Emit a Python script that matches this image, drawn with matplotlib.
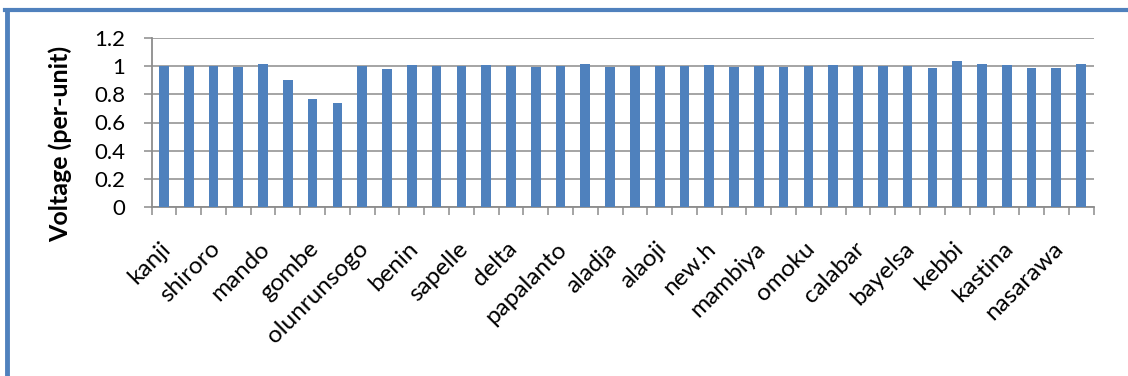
import numpy as np
import matplotlib
matplotlib.use("Agg")
import matplotlib.pyplot as plt
from matplotlib.lines import Line2D
from matplotlib.transforms import ScaledTranslation

# bus voltages, one bar per bus; only every other bus gets a name on the axis
voltage = [1.0, 1.0, 1.0, 0.997, 1.017, 0.903, 0.768, 0.737, 1.0, 0.981,
           1.01, 1.0, 1.0, 1.01, 1.0, 0.999, 1.0, 1.017, 0.998, 1.0,
           1.0, 1.0, 1.01, 0.998, 1.0, 0.999, 1.0, 1.01, 1.0, 1.0,
           1.0, 0.987, 1.038, 1.017, 1.012, 0.991, 0.988, 1.017]
bus_names = ['kanji', 'shiroro', 'mando', 'gombe', 'olunrunsogo', 'benin',
             'sapelle', 'delta', 'papalanto', 'aladja', 'alaoji', 'new.h',
             'mambiya', 'omoku', 'calabar', 'bayelsa', 'kebbi', 'kastina',
             'nasarawa']
yticks = [0, 0.2, 0.4, 0.6, 0.8, 1, 1.2]
ytick_labels = ['0', '0.2', '0.4', '0.6', '0.8', '1', '1.2']

plt.rcParams['font.family'] = ['Lato', 'DejaVu Sans']

W, H = 1128, 376
fig = plt.figure(figsize=(W/100, H/100), dpi=100)
ax = fig.add_axes([151.5/W, 1 - 206.7/H, (1093.5 - 151.5)/W, (206.7 - 38.3)/H])

grey = '#8c8c8c'
x = np.arange(len(voltage))
ax.bar(x, voltage, width=0.39, color='#4f81bd', zorder=3)

ax.set_xlim(-0.5, len(voltage) - 0.5)
ax.set_ylim(0, 1.2)
ax.set_yticks(yticks)
ax.set_yticklabels(ytick_labels, fontsize=16)
ax.yaxis.grid(True, color=grey, lw=1.1, zorder=0)

# category names at every second bar, tick marks between the bars
ax.set_xticks(x[::2])
ax.set_xticklabels(bus_names, rotation=45, ha='right', va='center',
                   rotation_mode='anchor', fontsize=17.5)
ax.tick_params(axis='x', which='major', length=0, pad=28)
shift = ScaledTranslation(3/100, 0, fig.dpi_scale_trans)
for lbl in ax.get_xticklabels():
    lbl.set_transform(lbl.get_transform() + shift)
ax.set_xticks(np.arange(-0.5, len(voltage)), minor=True)
ax.tick_params(axis='x', which='minor', length=5.8, width=1.1, color=grey)
ax.tick_params(axis='y', length=5.8, width=1.1, color=grey, pad=13)

for side in ['top', 'right']:
    ax.spines[side].set_visible(False)
for side in ['left', 'bottom']:
    ax.spines[side].set_color(grey)
    ax.spines[side].set_linewidth(1.3)

fig.text(60/W, 1 - 144/H, 'Voltage (per-unit)', rotation=90, fontsize=18,
         fontweight='bold', ha='center', va='center')

# chart border, top and left edges
blue = '#4f81bd'
fig.add_artist(Line2D([5/W, 1], [1 - 9.5/H, 1 - 9.5/H], color=blue, lw=3,
                      transform=fig.transFigure))
fig.add_artist(Line2D([7/W, 7/W], [0, 1 - 9.5/H], color=blue, lw=3.5,
                      transform=fig.transFigure))

fig.savefig('out.png', dpi=100)
